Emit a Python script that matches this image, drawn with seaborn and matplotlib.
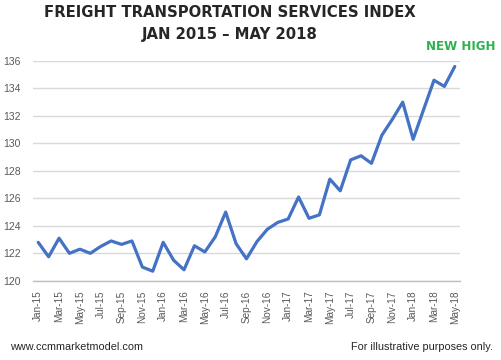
import pandas as pd
import matplotlib
matplotlib.use('Agg')
import matplotlib.pyplot as plt
import seaborn as sns

sns.set_style('white')

# monthly index values, Jan 2015 - May 2018
months = ['Jan-15', 'Feb-15', 'Mar-15', 'Apr-15', 'May-15', 'Jun-15', 'Jul-15', 'Aug-15',
          'Sep-15', 'Oct-15', 'Nov-15', 'Dec-15', 'Jan-16', 'Feb-16', 'Mar-16', 'Apr-16',
          'May-16', 'Jun-16', 'Jul-16', 'Aug-16', 'Sep-16', 'Oct-16', 'Nov-16', 'Dec-16',
          'Jan-17', 'Feb-17', 'Mar-17', 'Apr-17', 'May-17', 'Jun-17', 'Jul-17', 'Aug-17',
          'Sep-17', 'Oct-17', 'Nov-17', 'Dec-17', 'Jan-18', 'Feb-18', 'Mar-18', 'Apr-18',
          'May-18']
tsi_values = [122.8, 121.75, 123.1, 122.0, 122.3, 122.0, 122.5, 122.9,
              122.65, 122.9, 121.0, 120.7, 122.8, 121.5, 120.8, 122.55,
              122.1, 123.2, 125.0, 122.7, 121.6, 122.85, 123.75, 124.25,
              124.5, 126.1, 124.55, 124.8, 127.4, 126.55, 128.8, 129.1,
              128.55, 130.6, 131.75, 133.0, 130.3, 132.45, 134.6, 134.15,
              135.6]
y_ticks = [120, 122, 124, 126, 128, 130, 132, 134, 136]

df = pd.DataFrame({'pos': range(len(months)), 'month': months, 'index': tsi_values})

fig = plt.figure(figsize=(5.01, 3.60), dpi=100)
ax = fig.add_axes([33/501, 0.22, 427/501, 0.6106])

sns.lineplot(data=df, x='pos', y='index', color='#4472C4', linewidth=2.3, ax=ax)

ax.set_xlim(-0.5, len(months) - 0.5)
ax.set_ylim(120, 136)
ax.set_yticks(y_ticks)
ax.yaxis.grid(True, color='#D9D9D9', linewidth=1)
ax.set_xlabel('')
ax.set_ylabel('')

ax.set_xticks(df['pos'][::2])
ax.set_xticklabels(df['month'][::2], rotation=90, fontsize=7.2, color='#595959',
                   family='Liberation Sans')
ax.set_xticks([p - 0.5 for p in range(0, len(months), 2)], minor=True)
ax.tick_params(axis='x', which='major', length=0, pad=7)
ax.tick_params(axis='x', which='minor', length=4, color='#BFBFBF', width=1, direction='out')
ax.tick_params(axis='y', length=0, pad=9, labelsize=7.5, labelcolor='#595959')
for lbl in ax.get_yticklabels():
    lbl.set_family('Liberation Sans')

for s in ['top', 'right', 'left']:
    ax.spines[s].set_visible(False)
ax.spines['bottom'].set_color('#BFBFBF')
ax.spines['bottom'].set_linewidth(1)

fig.text(230/501, 1 - 12.5/360, 'FREIGHT TRANSPORTATION SERVICES INDEX', ha='center',
         va='center', fontsize=10.7, fontweight='bold', family='DejaVu Sans')
fig.text(230/501, 1 - 35/360, 'JAN 2015 \u2013 MAY 2018', ha='center', va='center',
         fontsize=10.7, fontweight='bold', family='DejaVu Sans')
fig.text(461/501, 1 - 47/360, 'NEW HIGH', ha='center', va='center', fontsize=8.6,
         fontweight='bold', color='#2BB24C', family='DejaVu Sans')

fig.text(10/501, 1 - 347/360, 'www.ccmmarketmodel.com', ha='left', va='center',
         fontsize=7.8, family='Liberation Sans')
fig.text(493/501, 1 - 347/360, 'For illustrative purposes only.', ha='right', va='center',
         fontsize=7.8, family='Liberation Sans')

plt.savefig('out.png', dpi=100)
